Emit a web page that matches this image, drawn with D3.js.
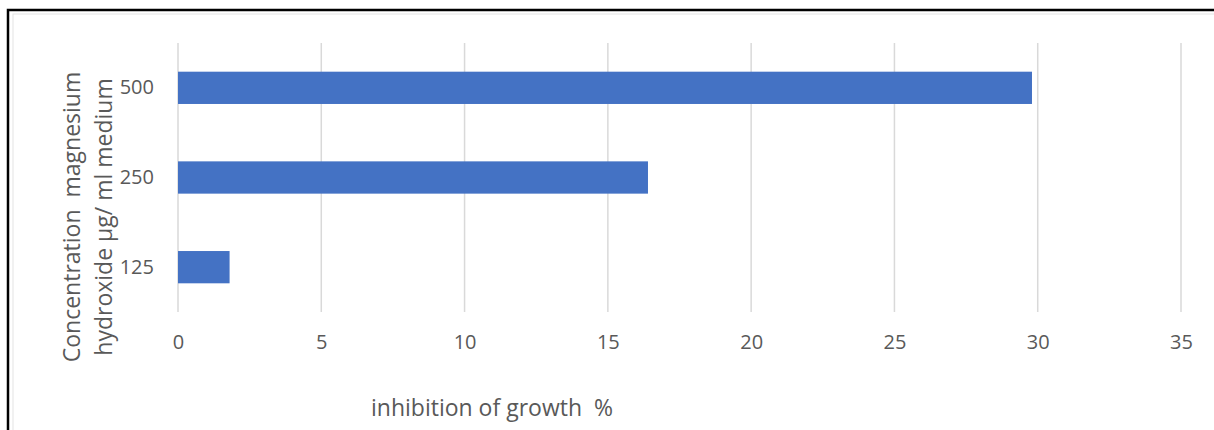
<!DOCTYPE html>
<html>
<head>
<meta charset="utf-8">
<script src="https://cdn.jsdelivr.net/npm/d3@7"></script>
<style>
  body { margin: 0; background: #fff; }
  text { font-family: "Open Sans", "Noto Sans", sans-serif; fill: #595959; white-space: pre; }
</style>
</head>
<body>
<div id="chart"></div>
<script>
// data
let categories = ["500", "250", "125"];
let values = [29.8, 16.4, 1.8];
let xTicks = [0, 5, 10, 15, 20, 25, 30, 35];

let W = 1214, H = 430;

let svg = d3.select("#chart")
  .append("svg")
  .attr("width", W)
  .attr("height", H);

// outer frame
svg.append("rect")
  .attr("x", 8).attr("y", 10)
  .attr("width", W + 10).attr("height", H + 10)
  .attr("fill", "none")
  .attr("stroke", "#000")
  .attr("stroke-width", 2.5);
svg.append("rect")
  .attr("x", 13).attr("y", 14)
  .attr("width", W + 10).attr("height", H + 10)
  .attr("fill", "none")
  .attr("stroke", "#e3e3e3")
  .attr("stroke-width", 1);

let x = d3.scaleLinear()
  .domain([0, 35])
  .range([178, 1181]);

let y = d3.scaleBand()
  .domain(categories)
  .range([43, 312])
  .paddingInner(0.64)
  .paddingOuter(0.32);

// gridlines
svg.append("g")
  .selectAll("line")
  .data(xTicks)
  .enter().append("line")
  .attr("x1", d => x(d))
  .attr("x2", d => x(d))
  .attr("y1", 43)
  .attr("y2", 312)
  .style("stroke", "#d9d9d9")
  .style("stroke-width", 1.5);

// bars
svg.append("g")
  .selectAll("rect")
  .data(categories)
  .enter().append("rect")
  .attr("x", x(0))
  .attr("y", d => y(d))
  .attr("width", (d, i) => x(values[i]) - x(0))
  .attr("height", y.bandwidth())
  .style("fill", "#4472c4");

// x axis labels
let xAxis = svg.append("g")
  .attr("transform", "translate(0,335)")
  .call(d3.axisBottom(x).tickValues(xTicks).tickSize(0).tickPadding(0));
xAxis.select(".domain").remove();
xAxis.selectAll("text")
  .style("font-size", "20px")
  .style("font-family", "'Open Sans', sans-serif")
  .attr("fill", "#595959");

// y axis labels
let yAxis = svg.append("g")
  .attr("transform", "translate(154,0)")
  .call(d3.axisLeft(y).tickSize(0).tickPadding(0));
yAxis.select(".domain").remove();
yAxis.selectAll("text")
  .style("font-size", "20px")
  .style("font-family", "'Open Sans', sans-serif")
  .attr("fill", "#595959");

// axis titles
svg.append("text")
  .attr("x", 492)
  .attr("y", 416)
  .attr("text-anchor", "middle")
  .style("font-size", "23px")
  .text("inhibition of growth  %");

let yTitle = svg.append("text")
  .attr("transform", "translate(0,217) rotate(-90)")
  .attr("text-anchor", "middle")
  .style("font-size", "23px");
yTitle.append("tspan").attr("x", 0).attr("y", 80).text("Concentration  magnesium");
yTitle.append("tspan").attr("x", 0).attr("y", 112).text("hydroxide µg/ ml medium");
</script>
</body>
</html>
